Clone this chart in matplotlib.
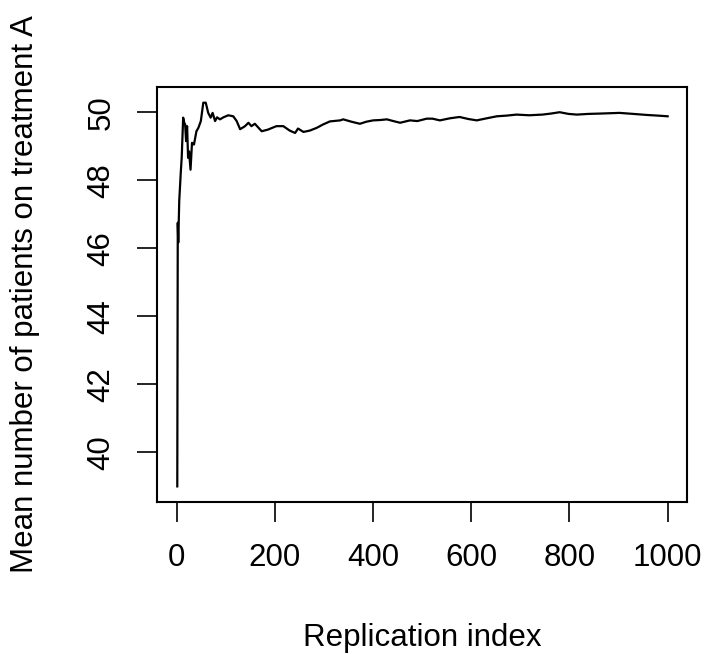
import matplotlib
matplotlib.use("Agg")
import matplotlib.pyplot as plt

# running mean
replication = [1, 2, 3, 5, 7, 8, 10, 13, 15, 17, 19, 21, 23, 25, 28, 31, 35, 40, 44, 49,
               54, 59, 64, 69, 73, 78, 82, 88, 95, 105, 115, 122, 129, 139, 146, 152, 159,
               166, 173, 186, 196, 203, 217, 230, 241, 247, 258, 271, 285, 298, 312, 333,
               339, 356, 373, 386, 400, 414, 428, 441, 455, 475, 490, 509, 521, 536, 556,
               576, 594, 611, 631, 652, 672, 692, 718, 745, 762, 780, 798, 815, 838, 862,
               882, 902, 930, 957, 980, 1000]
mean_on_a = [39.0, 46.75, 46.17, 47.4, 47.92, 48.2, 48.66, 49.84, 49.7, 49.64, 49.15,
             49.59, 48.66, 48.85, 48.31, 49.1, 49.05, 49.44, 49.54, 49.74, 50.28, 50.28,
             49.98, 49.84, 49.98, 49.74, 49.85, 49.79, 49.85, 49.91, 49.88, 49.74, 49.5,
             49.59, 49.69, 49.59, 49.66, 49.55, 49.44, 49.49, 49.55, 49.59, 49.59, 49.46,
             49.39, 49.52, 49.42, 49.46, 49.54, 49.64, 49.73, 49.76, 49.79, 49.72, 49.66,
             49.72, 49.76, 49.77, 49.79, 49.74, 49.69, 49.76, 49.74, 49.81, 49.81, 49.76,
             49.82, 49.86, 49.8, 49.76, 49.82, 49.88, 49.9, 49.93, 49.91, 49.93, 49.96,
             50.0, 49.95, 49.93, 49.95, 49.96, 49.97, 49.98, 49.95, 49.92, 49.9, 49.88]

x_ticks = [0, 200, 400, 600, 800, 1000]
y_ticks = [40, 42, 44, 46, 48, 50]

plt.rcParams["font.family"] = ["Liberation Sans", "DejaVu Sans"]
W, H = 705, 654
fig = plt.figure(figsize=(W / 100, H / 100), dpi=100)
ax = fig.add_axes([157.3 / W, 1 - 501.7 / H, 530 / W, 415 / H])

ax.plot(replication, mean_on_a, color="black", lw=1.6)
ax.set_xlim(-39.7, 1040)
ax.set_ylim(38.55, 50.75)

ax.set_xticks(x_ticks)
ax.set_yticks(y_ticks)
ax.set_yticklabels([str(v) for v in y_ticks], rotation=90, va="center")
ax.tick_params(direction="out", length=14.4, width=1.2, labelsize=22.5, pad=15)
for s in ax.spines.values():
    s.set_linewidth(1.5)

fig.text(422.3 / W, 1 - 646 / H, "Replication index", ha="center", va="baseline",
         fontsize=22.5)
fig.text(33.5 / W, 1 - 294.2 / H, "Mean number of patients on treatment A", rotation=90,
         rotation_mode="anchor", ha="center", va="baseline", fontsize=22.5)

fig.savefig("out.png", dpi=100)
